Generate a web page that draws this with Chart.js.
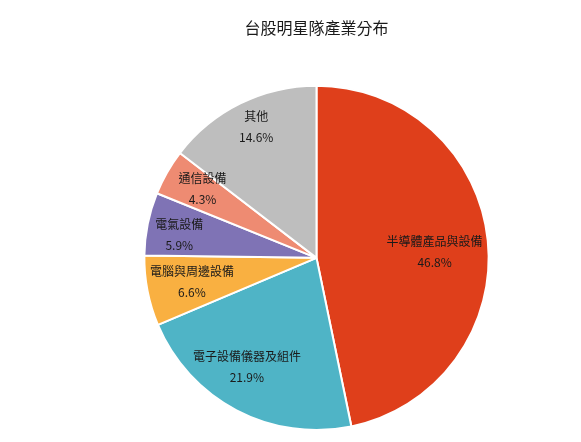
<!DOCTYPE html>
<html>
<head>
<meta charset="utf-8">
<script src="https://cdn.jsdelivr.net/npm/chart.js@4"></script>
<style>
html,body{margin:0;padding:0;background:#fff;}
#wrap{width:581px;height:442px;}
</style>
</head>
<body>
<div id="wrap"><canvas id="c" width="581" height="442"></canvas></div>
<script>
const categories = ['半導體產品與設備','電子設備儀器及組件','電腦與周邊設備','電氣設備','通信設備','其他'];
const values = [46.8, 21.9, 6.6, 5.9, 4.3, 14.6];
const colors = ['#DF3F1B','#4FB4C6','#F9B041','#7F73B5','#EE8B72','#BEBEBE'];
// label placement style: fraction of radius, fraction of slice sweep
const labelRadius = [0.687, 0.751, 0.737, 0.808, 0.774, 0.837];
const labelSweep = [0.517, 0.562, 0.504, 0.406, 0.593, 0.529];

const labelPlugin = {
  id: 'sliceLabels',
  afterDatasetsDraw(chart) {
    const ctx = chart.ctx;
    const meta = chart.getDatasetMeta(0);
    ctx.save();
    ctx.fillStyle = '#1a1a1a';
    ctx.font = '12px "Noto Sans CJK TC", sans-serif';
    ctx.textAlign = 'center';
    ctx.textBaseline = 'middle';
    meta.data.forEach((arc, i) => {
      const p = arc.getProps(['x','y','startAngle','endAngle','outerRadius'], true);
      const a = p.startAngle + (p.endAngle - p.startAngle) * labelSweep[i];
      const r = p.outerRadius * labelRadius[i];
      const x = p.x + Math.cos(a) * r;
      const y = p.y + Math.sin(a) * r;
      ctx.fillText(categories[i], x, y - 10.5);
      ctx.fillText(values[i].toFixed(1) + '%', x, y + 10.5);
    });
    ctx.restore();
  }
};

new Chart(document.getElementById('c'), {
  type: 'pie',
  data: {
    labels: categories,
    datasets: [{
      data: values,
      backgroundColor: colors,
      borderColor: '#ffffff',
      borderWidth: 2
    }]
  },
  options: {
    responsive: false,
    animation: false,
    layout: { padding: { left: 58, right: 6, top: 0, bottom: 11 } },
    plugins: {
      legend: { display: false },
      tooltip: { enabled: false },
      title: {
        display: true,
        text: '台股明星隊產業分布',
        color: '#1a1a1a',
        font: { size: 16, family: '"Noto Sans CJK TC", sans-serif', weight: 'normal' },
        padding: { top: 18, bottom: 47.5 }
      }
    }
  },
  plugins: [labelPlugin]
});
</script>
</body>
</html>
